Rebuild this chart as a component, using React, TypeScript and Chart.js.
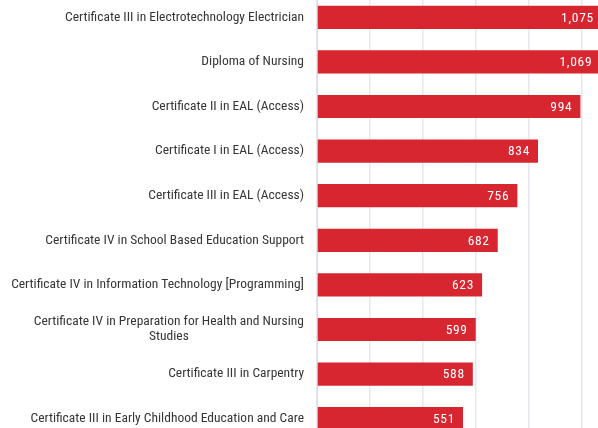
import React, { useEffect, useRef } from "react";
import { Chart, registerables } from "chart.js";

Chart.register(...registerables);

const categories: (string | string[])[] = [
  "Certificate III in Electrotechnology Electrician",
  "Diploma of Nursing",
  "Certificate II in EAL (Access)",
  "Certificate I in EAL (Access)",
  "Certificate III in EAL (Access)",
  "Certificate IV in School Based Education Support",
  "Certificate IV in Information Technology [Programming]",
  ["Certificate IV in Preparation for Health and Nursing", "Studies"],
  "Certificate III in Carpentry",
  "Certificate III in Early Childhood Education and Care",
];

const enrolments: number[] = [1075, 1069, 994, 834, 756, 682, 623, 599, 588, 551];

const FONT = "'Roboto Condensed', 'DejaVu Sans Condensed', sans-serif";

// Category labels: block right-aligned next to the axis, wrapped lines centred within the block.
const categoryLabels = {
  id: "categoryLabels",
  afterDraw(chart: any) {
    const ctx = chart.ctx;
    const yScale = chart.scales.y;
    const right = yScale.right - 13;
    const lineH = 15;
    ctx.save();
    ctx.fillStyle = "#363636";
    ctx.font = `13.5px ${FONT}`;
    ctx.textBaseline = "middle";
    (chart.data.labels as (string | string[])[]).forEach((lab, i) => {
      const lines = Array.isArray(lab) ? lab : [lab];
      const y = yScale.getPixelForTick(i);
      const maxW = Math.max(...lines.map((l) => ctx.measureText(l).width));
      const cx = right - maxW / 2;
      const top = y - ((lines.length - 1) * lineH) / 2;
      lines.forEach((l, j) => {
        ctx.textAlign = lines.length > 1 ? "center" : "right";
        ctx.fillText(l, lines.length > 1 ? cx : right, top + j * lineH);
      });
    });
    ctx.restore();
  },
};

const valueLabels = {
  id: "valueLabels",
  afterDatasetsDraw(chart: any) {
    const ctx = chart.ctx;
    const meta = chart.getDatasetMeta(0);
    const data = chart.data.datasets[0].data as number[];
    ctx.save();
    ctx.fillStyle = "#ffffff";
    ctx.font = `13.5px ${FONT}`;
    ctx.textAlign = "right";
    ctx.textBaseline = "middle";
    try { (ctx as any).letterSpacing = "0.7px"; } catch (e) {}
    meta.data.forEach((bar: any, i: number) => {
      ctx.fillText(data[i].toLocaleString("en-US"), bar.x - 8, bar.y + 1);
    });
    ctx.restore();
  },
};

export default function App() {
  const ref = useRef<HTMLCanvasElement | null>(null);
  useEffect(() => {
    if (!ref.current) return;
    const chart = new Chart(ref.current, {
      type: "bar",
      data: {
        labels: categories,
        datasets: [
          {
            data: enrolments,
            backgroundColor: "#d7262f",
            borderWidth: 0,
            categoryPercentage: 1,
            barPercentage: 0.52,
          },
        ],
      },
      options: {
        indexAxis: "y",
        animation: false,
        responsive: false,
        maintainAspectRatio: false,
        layout: { padding: 0 },
        plugins: {
          legend: { display: false },
          tooltip: { enabled: false },
          title: { display: false },
        },
        scales: {
          x: {
            min: 0,
            max: 1200,
            ticks: { display: false, stepSize: 200 },
            grid: { color: "#e4e8ee", drawTicks: false, lineWidth: 1.5 },
            border: { display: false },
          },
          y: {
            afterFit: (axis: any) => {
              axis.width = 317;
              axis.paddingTop = 0;
              axis.paddingBottom = 0;
            },
            ticks: { display: false },
            grid: { display: false, drawTicks: false },
            border: { display: true, color: "#d8dce3", width: 1 },
          },
        },
      },
      plugins: [valueLabels, categoryLabels],
    });
    return () => chart.destroy();
  }, []);

  return (
    <div
      style={{
        position: "fixed",
        left: 0,
        top: 0,
        width: 598,
        height: 428,
        overflow: "hidden",
        background: "#ffffff",
      }}
    >
      <div style={{ position: "absolute", left: 0, top: -5, width: 635, height: 446 }}>
        <canvas ref={ref} width={635} height={446} style={{ width: 635, height: 446 }} />
      </div>
    </div>
  );
}
